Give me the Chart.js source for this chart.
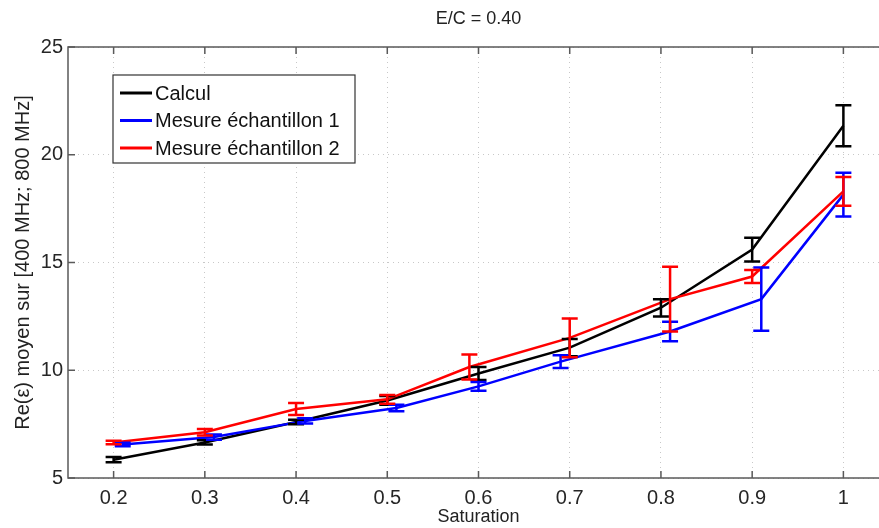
<!DOCTYPE html>
<html>
<head>
<meta charset="utf-8">
<script src="https://cdn.jsdelivr.net/npm/chart.js@4.4.1/dist/chart.umd.min.js"></script>
<style>
  html, body { margin: 0; padding: 0; background: #fff; overflow: hidden; }
  #wrap { width: 879px; height: 528px; overflow: hidden; }
</style>
</head>
<body>
<div id="wrap"><canvas id="chart" width="900" height="528"></canvas></div>
<script>
/* ─────────────────────────────────────────
   DONNÉES
───────────────────────────────────────── */
const titre = "E/C = 0.40";
const labelX = "Saturation";
const labelY = "Re(ε) moyen sur [400 MHz; 800 MHz]";

const xTicks = [0.2, 0.3, 0.4, 0.5, 0.6, 0.7, 0.8, 0.9, 1];
const yTicks = [5, 10, 15, 20, 25];

// Calcul
const calculX   = [0.2, 0.3, 0.4, 0.5, 0.6, 0.7, 0.8, 0.9, 1.0];
const calculY   = [5.85, 6.65, 7.6, 8.6, 9.85, 11.05, 12.9, 15.6, 21.35];
const calculErr = [0.12, 0.1, 0.1, 0.2, 0.3, 0.4, 0.4, 0.55, 0.95];

// Mesure échantillon 1
const mes1X   = [0.21, 0.31, 0.41, 0.51, 0.6, 0.69, 0.81, 0.91, 1.0];
const mes1Y   = [6.55, 6.9, 7.65, 8.25, 9.25, 10.4, 11.8, 13.3, 18.15];
const mes1Err = [0.08, 0.12, 0.12, 0.15, 0.2, 0.3, 0.45, 1.47, 1.02];

// Mesure échantillon 2
const mes2X   = [0.2, 0.3, 0.4, 0.5, 0.59, 0.7, 0.81, 0.9, 1.0];
const mes2Y   = [6.65, 7.12, 8.2, 8.65, 10.15, 11.5, 13.3, 14.35, 18.3];
const mes2Err = [0.08, 0.15, 0.28, 0.2, 0.58, 0.9, 1.5, 0.3, 0.67];

const FONT = "'Liberation Sans', Arial, Helvetica, sans-serif";
const AXIS_COLOR = "#5a5a5a";

const toPoints = (xs, ys) => xs.map((x, i) => ({ x, y: ys[i] }));

/* ─────────────────────────────────────────
   PLUGINS
───────────────────────────────────────── */
// barres d'erreur verticales avec chapeaux
const errorBars = {
  id: "errorBars",
  afterDatasetsDraw(chart) {
    const { ctx } = chart;
    const xs = chart.scales.x, ys = chart.scales.y;
    chart.data.datasets.forEach(ds => {
      if (!ds.errors) return;
      ctx.save();
      ctx.strokeStyle = ds.borderColor;
      ctx.lineWidth = 2.5;
      ds.data.forEach((p, j) => {
        const e = ds.errors[j];
        const px = xs.getPixelForValue(p.x);
        const top = ys.getPixelForValue(p.y + e);
        const bot = ys.getPixelForValue(p.y - e);
        ctx.beginPath();
        ctx.moveTo(px, top); ctx.lineTo(px, bot);
        ctx.moveTo(px - 8, top); ctx.lineTo(px + 8, top);
        ctx.moveTo(px - 8, bot); ctx.lineTo(px + 8, bot);
        ctx.stroke();
      });
      ctx.restore();
    });
  }
};

// cadre + graduations vers l'intérieur (style MATLAB)
const axisBox = {
  id: "axisBox",
  afterDatasetsDraw(chart) {
    const { ctx, chartArea: a } = chart;
    const xs = chart.scales.x, ys = chart.scales.y;
    ctx.save();
    ctx.strokeStyle = AXIS_COLOR;
    ctx.lineWidth = 1.5;
    ctx.strokeRect(a.left, a.top, a.right - a.left, a.bottom - a.top);
    ctx.beginPath();
    xs.ticks.forEach(t => {
      const px = xs.getPixelForValue(t.value);
      ctx.moveTo(px, a.bottom); ctx.lineTo(px, a.bottom - 7);
      ctx.moveTo(px, a.top); ctx.lineTo(px, a.top + 7);
    });
    ys.ticks.forEach(t => {
      const py = ys.getPixelForValue(t.value);
      ctx.moveTo(a.left, py); ctx.lineTo(a.left + 7, py);
      ctx.moveTo(a.right, py); ctx.lineTo(a.right - 7, py);
    });
    ctx.stroke();
    ctx.restore();
  }
};

// légende encadrée dans le coin haut-gauche
const legendBox = {
  id: "legendBox",
  afterDraw(chart) {
    const { ctx, chartArea: a } = chart;
    const x0 = a.left + 45, y0 = a.top + 28;
    const w = 242, h = 88, row = 27.5;
    ctx.save();
    ctx.fillStyle = "#fff";
    ctx.fillRect(x0, y0, w, h);
    ctx.strokeStyle = "#333";
    ctx.lineWidth = 1.2;
    ctx.strokeRect(x0, y0, w, h);
    ctx.font = `20px ${FONT}`;
    ctx.textBaseline = "middle";
    chart.data.datasets.forEach((ds, i) => {
      const y = y0 + 18 + i * row;
      ctx.strokeStyle = ds.borderColor;
      ctx.lineWidth = 3;
      ctx.beginPath();
      ctx.moveTo(x0 + 7, y); ctx.lineTo(x0 + 39, y);
      ctx.stroke();
      ctx.fillStyle = "#111";
      ctx.fillText(ds.label, x0 + 42, y + 1);
    });
    ctx.restore();
  }
};

/* ─────────────────────────────────────────
   GRAPHIQUE
───────────────────────────────────────── */
const ctx = document.getElementById("chart").getContext("2d");

new Chart(ctx, {
  type: "line",
  data: {
    datasets: [
      {
        label: "Calcul",
        data: toPoints(calculX, calculY),
        errors: calculErr,
        borderColor: "#000000",
        order: 2,
      },
      {
        label: "Mesure échantillon 1",
        data: toPoints(mes1X, mes1Y),
        errors: mes1Err,
        borderColor: "#0000ff",
        order: 1,
      },
      {
        label: "Mesure échantillon 2",
        data: toPoints(mes2X, mes2Y),
        errors: mes2Err,
        borderColor: "#ff0000",
        order: 0,
      },
    ].map(d => ({ ...d, borderWidth: 2.5, pointRadius: 0, tension: 0, fill: false }))
  },
  options: {
    responsive: false,
    devicePixelRatio: 1,
    animation: false,
    layout: { padding: { top: 0, right: 11, bottom: 0, left: 0 } },
    plugins: {
      legend: { display: false },
      tooltip: { enabled: false },
      title: {
        display: true,
        text: titre,
        fullSize: false,
        color: "#222",
        font: { family: FONT, size: 18, weight: "normal" },
        padding: { top: 8, bottom: 17.4 },
      },
    },
    scales: {
      x: {
        type: "linear",
        min: 0.15,
        max: 1.05,
        afterBuildTicks: s => { s.ticks = xTicks.map(v => ({ value: v })); },
        afterFit: s => { s.height = 50; },
        grid: { color: "#c8c8c8", lineWidth: 1, drawTicks: false },
        border: { display: false, dash: [1, 4] },
        ticks: {
          color: "#262626",
          padding: 8,
          maxRotation: 0,
          font: { family: FONT, size: 20 },
          callback: v => String(Math.round(v * 10) / 10),
        },
        title: {
          display: true,
          text: labelX,
          color: "#222",
          font: { family: FONT, size: 18 },
          padding: { top: 0, bottom: 0 },
        },
      },
      y: {
        min: 5,
        max: 25,
        afterBuildTicks: s => { s.ticks = yTicks.map(v => ({ value: v })); },
        afterFit: s => { s.width = 68; },
        grid: { color: "#c8c8c8", lineWidth: 1, drawTicks: false },
        border: { display: false, dash: [1, 4] },
        ticks: {
          color: "#262626",
          padding: 5,
          font: { family: FONT, size: 20 },
        },
        title: {
          display: true,
          text: labelY,
          color: "#222",
          font: { family: FONT, size: 20 },
          padding: { top: 11, bottom: 0 },
        },
      },
    },
  },
  plugins: [axisBox, errorBars, legendBox],
});
</script>
</body>
</html>
